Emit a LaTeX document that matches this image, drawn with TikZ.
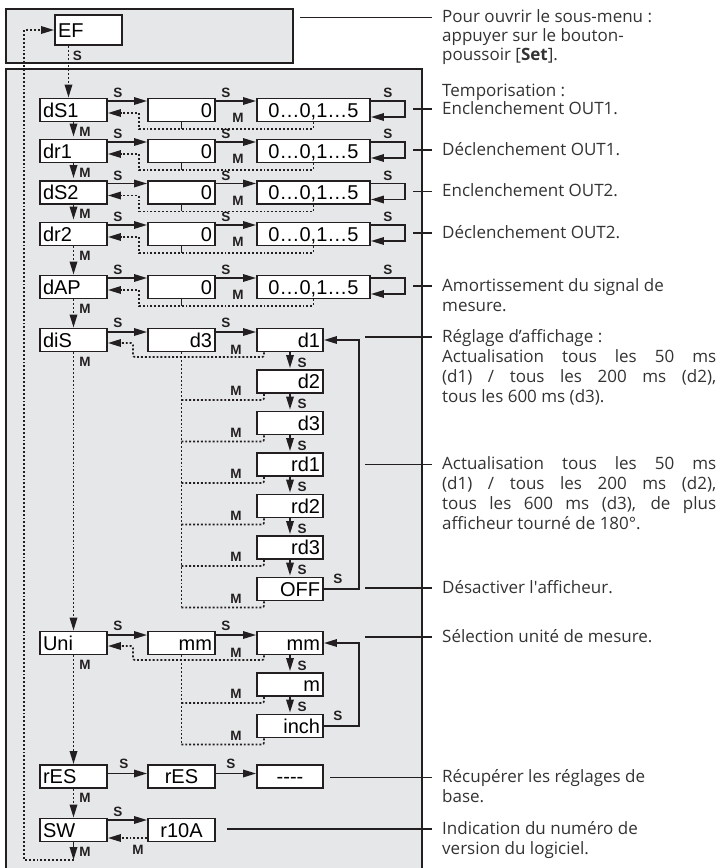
\documentclass[tikz,border=0pt]{standalone}
\usepackage{fontspec}
\setmainfont{Liberation Sans}
\newfontfamily\notefont{Open Sans}
\usetikzlibrary{arrows.meta, calc}
\definecolor{ink}{HTML}{231F20}
\definecolor{panel}{HTML}{E6E7E8}
\definecolor{notegray}{HTML}{333333}
\tikzset{
  menu/.style={draw=ink, fill=white, line width=1.9pt, minimum height=23pt,
    inner xsep=3pt, inner ysep=2.5pt, text height=16pt, text depth=2pt,
    font=\fontsize{20}{20}\selectfont},
  key/.style={menu, text width=61pt, align=left},
  val/.style={menu, text width=61pt, align=right},
  rng/.style={menu, text width=107pt, align=center},
  col/.style={menu, text width=60pt, align=right},
  sarr/.style={-{Triangle[length=13pt, width=7.5pt]}, line width=1.7pt, color=ink},
  marr/.style={sarr, dash pattern=on 1.9pt off 2pt},
  mline/.style={line width=1.7pt, color=ink, dash pattern=on 1.9pt off 2pt},
  lead/.style={line width=1.6pt, color=ink},
  lbl/.style={font=\fontsize{13.5}{14}\selectfont\bfseries, inner sep=0pt, text=ink},
  note/.style={anchor=base west, inner sep=0pt, align=left, text=notegray,
    font=\notefont\fontsize{17}{20}\selectfont}
}

\begin{document}
\begin{tikzpicture}[x=1pt, y=-1pt]
\useasboundingbox (0,0) rectangle (721,868);
\draw[ink, fill=panel, line width=1.5pt] (6,9) rectangle (293,63);
\draw[ink, fill=panel, line width=1.5pt] (6,69) rectangle (422,872);

\node[key, minimum height=30pt] (EF) at (88.5,30) {EF};

\foreach \n/\y in {dS1/110, dr1/151, dS2/192.5, dr2/234, dAP/287}{
  \node[key] (\n) at (73.5,\y) {\n};
  \node[val] (v\n) at (181.5,\y) {0};
  \node[rng] (r\n) at (313.5,\y) {0…0,1…5};
  \draw[sarr] ($(\n.east)+(0,-9)$) -- ($(v\n.west)+(0,-9)$);
  \draw[sarr] ($(v\n.east)+(0,-9)$) -- ($(r\n.west)+(0,-9)$);
  \draw[sarr] ($(r\n.east)+(0,-9)$) -- ++(34,0) -- ++(0,16) -- ($(r\n.east)+(0,7)$);
  \draw[marr] (r\n.south) -- ++(0,6.5) -| ($(\n.east)+(31,3)$) -- ($(\n.east)+(0,3)$);
  \draw[lead] (v\n.south) -- ++(0,6.5);
  \node[lbl] (s\n) at ($(\n.east)+(10,-17)$) {S};
  \node[lbl] (t\n) at ($(v\n.east)+(10,-17)$) {S};
  \node[lbl] (l\n) at ($(r\n.east)+(17,-17)$) {S};
  \node[lbl] (m\n) at ($(v\n.east)+(22,8)$) {M};
}

\node[key] (diS) at (73.5,340) {diS};
\node[val] (vdiS) at (181.5,340) {d3};
\node[key] (Uni) at (73.5,643) {Uni};
\node[val] (vUni) at (181.5,643) {mm};
\foreach \n/\t/\y in {d1/d1/340, d2/d2/381.5, d3/d3/423, rd1/rd1/464.5, rd2/rd2/506,
    rd3/rd3/547.5, off/OFF/589, u1/mm/643, u2/m/684.5, u3/inch/726}
  \node[col] (\n) at (290,\y) {\t};

\node[key] (rES) at (73.5,776.5) {rES};
\node[val, align=center] (vrES) at (181.5,776.5) {rES};
\node[col, align=center] (xrES) at (290,776.5) {{-}{-}{-}{-}};
\node[key] (SW) at (73.5,830) {SW};
\node[val, align=center] (vSW) at (181.5,830) {r10A};

\foreach \n/\c in {diS/d1, Uni/u1}{
  \draw[sarr] ($(\n.east)+(0,-8)$) -- ($(v\n.west)+(0,-8)$);
  \draw[sarr] ($(v\n.east)+(0,-8)$) -- ($(\c.west)+(0,-8)$);
  \draw[marr, rounded corners=2pt] ($(\c.south west)+(8,0)$) |- ($(\n.east)+(25,17)$)
    -- ($(\n.east)+(25,3)$) -- ($(\n.east)+(0,3)$);
  \node[lbl] (s\n) at ($(\n.east)+(10,-17)$) {S};
  \node[lbl] (t\n) at ($(v\n.east)+(10,-17)$) {S};
}
\draw[mline] (vdiS.south) -- ($(vdiS.south |- off.south)+(0,6)$);
\draw[mline] (vUni.south) -- ($(vUni.south |- u3.south)+(0,6)$);
\foreach \n in {d2, d3, rd1, rd2, rd3, off, u2, u3}
  \draw[mline, rounded corners=2pt] ($(\n.south west)+(8,0)$) |- ($(\n.south west)+(-75,6)$);
\foreach \n in {d1, d2, d3, rd1, rd2, rd3, off, u1, u2, u3}
  \node[lbl] (m\n) at ($(\n.south west)+(-20,-3)$) {M};
\foreach \a/\b in {d1/d2, d2/d3, d3/rd1, rd1/rd2, rd2/rd3, rd3/off, u1/u2, u2/u3}{
  \draw[sarr, shorten >=1pt] (\a) -- (\b);
  \node[lbl] (s\b) at ($(\a.south)+(12,10)$) {S};
}
\draw[sarr] (off.east) -- ++(35,0) |- (d1.east);
\draw[sarr] (u3.east) -- ++(35,0) |- (u1.east);
\node[lbl] (loff) at ($(off.east)+(14,-10)$) {S};
\node[lbl] (lu3) at ($(u3.east)+(14,-10)$) {S};

\draw[sarr] ($(rES.east)+(0,-3)$) -- ($(vrES.west)+(0,-3)$);
\draw[sarr] ($(vrES.east)+(0,-3)$) -- ($(xrES.west)+(0,-3)$);
\node[lbl] (srES) at ($(rES.east)+(16,-13)$) {S};
\node[lbl] (trES) at ($(vrES.east)+(15,-13)$) {S};
\draw[sarr] ($(SW.east)+(0,-10)$) -- ($(vSW.west)+(0,-10)$);
\draw[marr] ($(vSW.west)+(0,8)$) -- ($(SW.east)+(0,8)$);
\node[lbl] (sSW) at ($(SW.east)+(10,-18)$) {S};
\node[lbl] (mSW) at ($(SW.east)+(30,20)$) {M};

\draw[sarr, shorten >=2pt] (dS1) -- (dr1);
\draw[sarr, shorten >=2pt] (dr1) -- (dS2);
\draw[sarr, shorten >=2pt] (dS2) -- (dr2);
\draw[marr] (dr2) -- (dAP);
\draw[marr] (dAP) -- (diS);
\draw[marr] (diS) -- (Uni);
\draw[marr] (Uni) -- (rES);
\draw[marr] (rES) -- (SW);
\foreach \n in {dS1, dr1, dS2, dr2, dAP, diS, Uni, rES, SW}
  \node[lbl] (k\n) at ($(\n.south)+(11.5,9)$) {M};

\draw[marr] ($(EF.south -| dS1.north)+(-5,0)$) -- ($(dS1.north)+(-5,0)$);
\node[lbl] (sEF) at ($(EF.south -| dS1.north)+(4,10)$) {S};
\coordinate (back) at (73.5,860);
\draw[sarr] (SW) -- (back);
\draw[marr] (back) -| ($(EF.west)+(-30,0)$) -- (EF.west);

% multi-line notes sit on the baseline of their last line
\node[note, font=\notefont\fontsize{17}{19}\selectfont] (tEF) at (442,60.5) {Pour ouvrir le sous-menu :\\appuyer sur le bouton-\\poussoir [\textbf{Set}].};
\node[note, font=\notefont\fontsize{17}{16}\selectfont] (tdS1) at (442,114) {Temporisation :\\Enclenchement OUT1.};
\node[note] (tdr1) at (442,155) {Déclenchement OUT1.};
\node[note] (tdS2) at (442,196.5) {Enclenchement OUT2.};
\node[note] (tdr2) at (442,238) {Déclenchement OUT2.};
\node[note] (tdAP) at (442,311) {Amortissement du signal de\\mesure.};
\node[note] (tdiS) at (442,402) {Réglage d’affichage :\\\makebox[274pt][s]{Actualisation tous les 50 ms}\\\makebox[274pt][s]{(d1) / tous les 200 ms (d2),}\\tous les 600 ms (d3).};
\node[note] (trd) at (442,529.5) {\makebox[274pt][s]{Actualisation tous les 50 ms}\\\makebox[274pt][s]{(d1) / tous les 200 ms (d2),}\\\makebox[274pt][s]{tous les 600 ms (d3), de plus}\\afficheur tourné de 180°.};
\node[note] (toff) at (442,593) {Désactiver l\textquotesingle afficheur.};
\node[note] (tUni) at (442,642) {Sélection unité de mesure.};
\node[note] (trES) at (442,802.5) {Récupérer les réglages de\\base.};
\node[note] (tSW) at (442,854) {Indication du numéro de\\version du logiciel.};

\draw[lead] ($(tEF.base west)+(-10,-43)$) -- ++(-132,0);
\draw[lead] ($(tdS1.base west)+(-10,-5)$) -- ++(-19,0);
\draw[lead] ($(tdr1.base west)+(-10,-5)$) -- ++(-19,0);
\draw[lead] ($(tdS2.base west)+(-10,-5)$) -- ++(-19,0);
\draw[lead] ($(tdr2.base west)+(-10,-5)$) -- ++(-19,0);
\draw[lead] ($(tdAP.base west)+(-10,-25)$) -- ++(-19,0);
\draw[lead] ($(tdiS.base west)+(-10,-65)$) -- ++(-67,0);
\draw[lead] ($(trd.base west)+(-10,-65)$) -- ++(-67,0);
\draw[lead] ($(toff.base west)+(-10,-5)$) -- ++(-67,0);
\draw[lead] ($(tUni.base west)+(-10,-5)$) -- ++(-67,0);
\draw[lead] ($(trES.base west)+(-10,-25)$) -- ++(-102,0);
\draw[lead] ($(tSW.base west)+(-10,-25)$) -- ++(-205,0);
\end{tikzpicture}
\end{document}
